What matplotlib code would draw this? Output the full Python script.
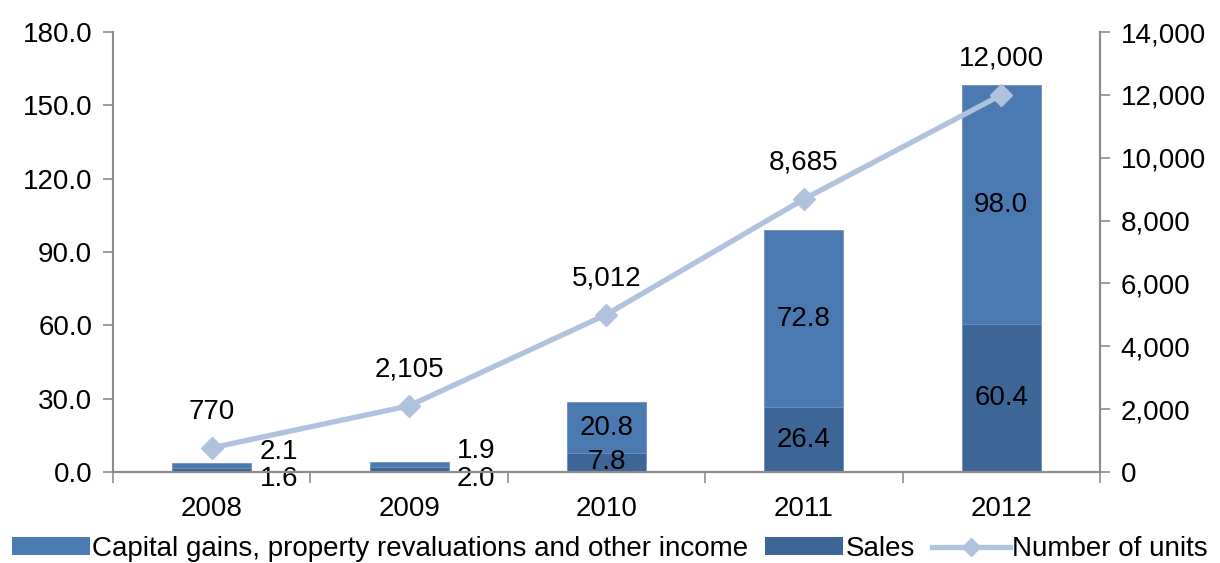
import matplotlib
matplotlib.use("Agg")
import matplotlib.pyplot as plt
from matplotlib.ticker import FuncFormatter, FixedLocator
from matplotlib.lines import Line2D
from matplotlib.patches import Patch
import numpy as np

plt.rcParams['font.family'] = ['Liberation Sans', 'DejaVu Sans']

years = ['2008', '2009', '2010', '2011', '2012']
sales = [1.6, 2.0, 7.8, 26.4, 60.4]
capital = [2.1, 1.9, 20.8, 72.8, 98.0]
units = [770, 2105, 5012, 8685, 12000]

c_cap = '#4A7AB1'
c_sales = '#3D6596'
c_line = '#B0C2DD'
grey = '#8C8C8C'
FS = 20

fig = plt.figure(figsize=(12.2, 5.63), dpi=100)
ax = fig.add_axes([0.0926, 0.1616, 0.8090, 0.7814])
ax2 = ax.twinx()

x = np.arange(len(years))
w = 0.4
ax.bar(x, sales, w, color=c_sales, edgecolor='#6E8FBA', linewidth=0.6, zorder=2)
ax.bar(x, capital, w, bottom=sales, color=c_cap, edgecolor='#6E8FBA', linewidth=0.6, zorder=2)

ax.set_xlim(-0.5, len(years) - 0.5)
ax.set_ylim(0, 180)
ax2.set_ylim(0, 14000)
ax.set_yticks(np.arange(0, 181, 30))
ax.yaxis.set_major_formatter(FuncFormatter(lambda v, p: f'{v:.1f}'))
ax2.set_yticks(np.arange(0, 14001, 2000))
ax2.yaxis.set_major_formatter(FuncFormatter(lambda v, p: f'{int(v):,}'))

ax.set_xticks(x)
ax.set_xticklabels(years)
ax.xaxis.set_minor_locator(FixedLocator(np.arange(-0.5, len(years), 1.0)))
ax.tick_params(axis='x', which='major', length=0, pad=17, labelsize=FS)
ax.tick_params(axis='x', which='minor', length=8, width=1.2, color=grey, direction='out')
ax.tick_params(axis='y', length=7, width=1.2, color=grey, labelsize=FS, pad=8)
ax2.tick_params(axis='y', length=7, width=1.2, color=grey, labelsize=FS, pad=8)

for a in (ax, ax2):
    a.spines['top'].set_visible(False)
    for s in ('left', 'right', 'bottom'):
        a.spines[s].set_color(grey)
        a.spines[s].set_linewidth(1.5)

ax2.plot(x, units, color=c_line, linewidth=3.8, marker='D', markersize=11,
         markerfacecolor=c_line, markeredgecolor=c_line, zorder=3)

for xi, u in zip(x, units):
    ax2.annotate(f'{u:,}', (xi, u), xytext=(0, 26), textcoords='offset points',
                 ha='center', va='center', fontsize=FS)

# bar labels
small = {0, 1}
for xi, s, c in zip(x, sales, capital):
    if xi in small:
        ax.annotate(f'{c:.1f}', (xi + w / 2, s + c), xytext=(6, 8), textcoords='offset points',
                    ha='left', va='center', fontsize=FS)
        ax.annotate(f'{s:.1f}', (xi + w / 2, 0), xytext=(6, -5), textcoords='offset points',
                    ha='left', va='center', fontsize=FS)
    else:
        ax.text(xi, s + c / 2, f'{c:.1f}', ha='center', va='center', fontsize=FS, zorder=4)
        ax.text(xi, s / 2, f'{s:.1f}', ha='center', va='center', fontsize=FS, zorder=4)

handles = [Patch(facecolor=c_cap, edgecolor='none'),
           Patch(facecolor=c_sales, edgecolor='none'),
           Line2D([0], [0], color=c_line, linewidth=3.8, marker='D', markersize=9)]
labels = ['Capital gains, property revaluations and other income', 'Sales', 'Number of units']
fig.legend(handles, labels, loc='center', bbox_to_anchor=(0.5, 0.025), ncol=3, frameon=False,
           fontsize=FS, handlelength=2.8, handleheight=0.6, handletextpad=0.1, columnspacing=0.6,
           borderaxespad=0)

fig.savefig('out.png', dpi=100)
